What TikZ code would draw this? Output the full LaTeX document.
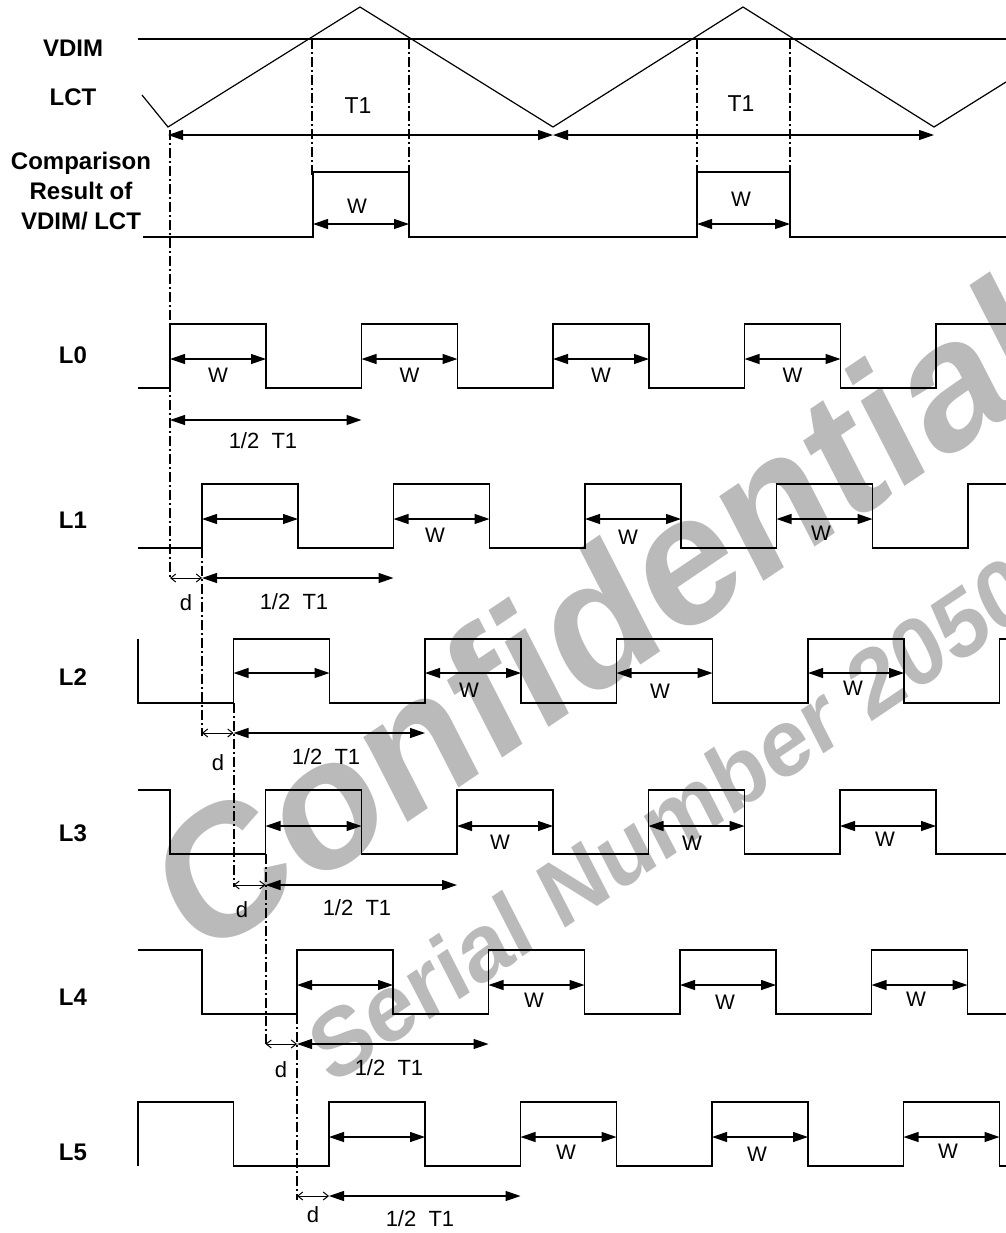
\documentclass[tikz,border=0pt]{standalone}
\usepackage{fontspec}
\setmainfont{Liberation Sans}
\usetikzlibrary{arrows.meta}
\begin{document}
\begin{tikzpicture}[x=0.5pt,y=-0.5pt,
    sigline/.style={line width=0.8pt},
    guideline/.style={line width=1pt,dash pattern=on 5pt off 1.5pt on 1pt off 1.5pt},
    dimarrow/.style={line width=0.6pt,{Triangle[length=7.5pt,width=5pt]}-{Triangle[length=7.5pt,width=5pt]}},
    darrow/.style={line width=0.5pt,{Straight Barb[length=2.5pt,width=4pt]}-{Straight Barb[length=2.5pt,width=4pt]}},
    rowlabel/.style={font=\fontsize{12}{15}\selectfont\bfseries},
    wlabel/.style={font=\fontsize{10.5}{12}\selectfont},
    tlabel/.style={font=\fontsize{11}{13}\selectfont},
    watermark/.style={text=black!27,rotate=34,xslant=0.12,font=\fontsize{#1}{#1}\selectfont\bfseries}]
    \useasboundingbox (0,0) rectangle (1006,1233);
    \clip (0,0) rectangle (1006,1233);
    % watermark
    \node[watermark=90] (conf) at (600,615) {Confidential};
    \node[watermark=46] (serial) at (670,818) {Serial Number 2050};
    % labels
    \node[rowlabel] (vdim) at (73,48) {VDIM};
    \node[rowlabel] (lct) at (73,97) {LCT};
    \node[rowlabel,align=center] (cmp) at (81,191) {Comparison\\Result of\\VDIM/ LCT};
    \node[rowlabel] (l0) at (73,355) {L0};
    \node[rowlabel] (l1) at (73,520) {L1};
    \node[rowlabel] (l2) at (73,677) {L2};
    \node[rowlabel] (l3) at (73,833) {L3};
    \node[rowlabel] (l4) at (73,997) {L4};
    \node[rowlabel] (l5) at (73,1152) {L5};
    % VDIM and LCT
    \draw[line width=0.6pt] (138,39) -- (1006,39);
    \draw[line width=0.6pt] (142,95) -- (168,127) -- (360,7) -- (553,127) -- (743,7) -- (934,127) -- (1006,82);
    \draw[guideline] (312,39) -- (312,178);
    \draw[guideline] (409,39) -- (409,178);
    \draw[guideline] (697,39) -- (697,178);
    \draw[guideline] (790,39) -- (790,178);
    \draw[dimarrow] (168,135) -- (553,135);
    \draw[dimarrow] (553,135) -- (934,135);
    \node[tlabel,font=\fontsize{11.5}{13}\selectfont] (t1a) at (358,106) {T1};
    \node[tlabel,font=\fontsize{11.5}{13}\selectfont] (t1b) at (741,104) {T1};
    % comparison result
    \draw[sigline] (143,237) -| (313,172) -| (409,237) -| (697,172) -| (790,237) -- (1006,237);
    \draw[dimarrow] (313,224) -- (409,224);
    \draw[dimarrow] (697,224) -- (790,224);
    \node[wlabel] (wc0) at (357,206) {W};
    \node[wlabel] (wc1) at (741,199) {W};
    % delay guides
    \draw[guideline] (170,130) -- (170,580);
    \draw[guideline] (202,548) -- (202,736);
    \draw[guideline] (233.5,703) -- (233.5,887);
    \draw[guideline] (265.5,854) -- (265.5,1046);
    \draw[guideline] (297,1014) -- (297,1200);
    % L0
    \draw[sigline] (138,388) -| (170,324) -| (266,388) -| (361.5,324) -| (457.5,388) -| (553,324) -| (649,388) -| (744.5,324) -| (840.5,388) -| (936,324) -- (1006,324);
    \draw[dimarrow] (170,359) -- (266,359);
    \draw[dimarrow] (361.5,359) -- (457.5,359);
    \draw[dimarrow] (553,359) -- (649,359);
    \draw[dimarrow] (744.5,359) -- (840.5,359);
    \node[wlabel] (w00) at (218,375) {W};
    \node[wlabel] (w01) at (409.5,375) {W};
    \node[wlabel] (w02) at (601,375) {W};
    \node[wlabel] (w03) at (792.5,375) {W};
    \draw[dimarrow] (170,420) -- (361.5,420);
    \node[tlabel] (h0) at (263,441) {1/2~~T1};
    % L1
    \draw[sigline] (138,548) -| (202,484) -| (298,548) -| (393.5,484) -| (489.5,548) -| (585,484) -| (681,548) -| (776.5,484) -| (872.5,548) -| (968,484) -- (1006,484);
    \draw[dimarrow] (202,519) -- (298,519);
    \draw[dimarrow] (393.5,519) -- (489.5,519);
    \draw[dimarrow] (585,519) -- (681,519);
    \draw[dimarrow] (776.5,519) -- (872.5,519);
    \node[wlabel] (w11) at (435,535) {W};
    \node[wlabel] (w12) at (628,537) {W};
    \node[wlabel] (w13) at (821,533) {W};
    \draw[darrow] (170,578) -- (202,578);
    \draw[dimarrow] (202,578) -- (393.5,578);
    \node[tlabel] (d1) at (186,603) {d};
    \node[tlabel] (h1) at (294,602) {1/2~~T1};
    % L2
    \draw[sigline] (138,639) -- (138,703) -| (233.5,639) -| (329.5,703) -| (425,639) -| (521,703) -| (616.5,639) -| (712.5,703) -| (808,639) -| (904,703) -| (999.5,639) -- (1006,639);
    \draw[dimarrow] (233.5,673) -- (329.5,673);
    \draw[dimarrow] (425,673) -- (521,673);
    \draw[dimarrow] (616.5,673) -- (712.5,673);
    \draw[dimarrow] (808,673) -- (904,673);
    \node[wlabel] (w21) at (469,690) {W};
    \node[wlabel] (w22) at (660,691) {W};
    \node[wlabel] (w23) at (853,688) {W};
    \draw[darrow] (202,733) -- (233.5,733);
    \draw[dimarrow] (233.5,733) -- (425,733);
    \node[tlabel] (d2) at (218,763) {d};
    \node[tlabel] (h2) at (326,757) {1/2~~T1};
    % L3
    \draw[sigline] (138,790) -| (170,854) -| (265.5,790) -| (361.5,854) -| (457,790) -| (553,854) -| (648.5,790) -| (744.5,854) -| (840,790) -| (936,854) -- (1006,854);
    \draw[dimarrow] (265.5,826) -- (361.5,826);
    \draw[dimarrow] (457,826) -- (553,826);
    \draw[dimarrow] (648.5,826) -- (744.5,826);
    \draw[dimarrow] (840,826) -- (936,826);
    \node[wlabel] (w31) at (500,842) {W};
    \node[wlabel] (w32) at (692,843) {W};
    \node[wlabel] (w33) at (885,839) {W};
    \draw[darrow] (233.5,885) -- (265.5,885);
    \draw[dimarrow] (265.5,885) -- (457,885);
    \node[tlabel] (d3) at (242,910) {d};
    \node[tlabel] (h3) at (357,908) {1/2~~T1};
    % L4
    \draw[sigline] (138,950) -| (202,1014) -| (297,950) -| (393,1014) -| (488.5,950) -| (584.5,1014) -| (680,950) -| (776,1014) -| (871.5,950) -| (967.5,1014) -- (1006,1014);
    \draw[dimarrow] (297,985) -- (393,985);
    \draw[dimarrow] (488.5,985) -- (584.5,985);
    \draw[dimarrow] (680,985) -- (776,985);
    \draw[dimarrow] (871.5,985) -- (967.5,985);
    \node[wlabel] (w41) at (534,1000) {W};
    \node[wlabel] (w42) at (725,1002) {W};
    \node[wlabel] (w43) at (916,999) {W};
    \draw[darrow] (265.5,1044) -- (297,1044);
    \draw[dimarrow] (297,1044) -- (488.5,1044);
    \node[tlabel] (d4) at (281,1070) {d};
    \node[tlabel] (h4) at (389,1068) {1/2~~T1};
    % L5
    \draw[sigline] (138,1166) -- (138,1102) -| (233.5,1166) -| (329,1102) -| (425,1166) -| (520.5,1102) -| (616.5,1166) -| (712,1102) -| (808,1166) -| (903.5,1102) -| (999.5,1166) -- (1006,1166);
    \draw[dimarrow] (329,1137) -- (425,1137);
    \draw[dimarrow] (520.5,1137) -- (616.5,1137);
    \draw[dimarrow] (712,1137) -- (808,1137);
    \draw[dimarrow] (903.5,1137) -- (999.5,1137);
    \node[wlabel] (w51) at (566,1152) {W};
    \node[wlabel] (w52) at (757,1154) {W};
    \node[wlabel] (w53) at (948,1151) {W};
    \draw[darrow] (297,1196) -- (329,1196);
    \draw[dimarrow] (329,1196) -- (520.5,1196);
    \node[tlabel] (d5) at (313,1215) {d};
    \node[tlabel] (h5) at (420,1219) {1/2~~T1};
\end{tikzpicture}
\end{document}
